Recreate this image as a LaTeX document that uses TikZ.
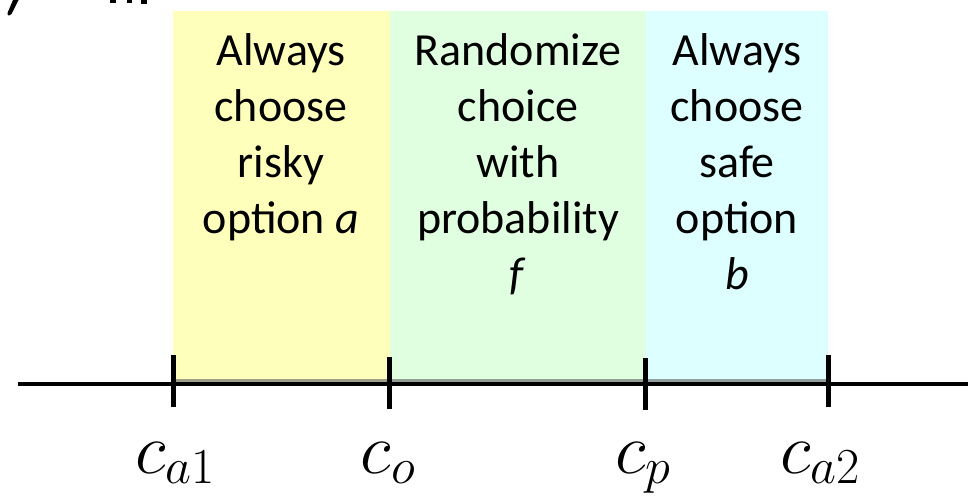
\RequirePackage{fix-cm}
\documentclass[tikz,border=0pt]{standalone}
\usepackage{fontspec}
\newfontfamily\boxfont{Carlito}
\definecolor{zoneyellow}{RGB}{255,255,188}
\definecolor{zonegreen}{RGB}{224,255,224}
\definecolor{zonecyan}{RGB}{222,255,255}
\begin{document}
\begin{tikzpicture}[x=1pt,y=-1pt,
  boxtxt/.style={inner sep=0pt,anchor=base,font=\boxfont\fontsize{46}{56}\selectfont},
  mathlbl/.style={inner sep=0pt,anchor=base,font=\fontsize{72}{80}\selectfont},
  tickmark/.style={line width=4.5pt},
  axisline/.style={line width=4pt}]
\useasboundingbox (0,0) rectangle (976,499);
% cropped title fragments
\fill[black] (13,0) -- (18.5,0) -- (11.5,14) to[out=240,in=0] (9,15.5) to[out=180,in=250] (7.5,13) -- cycle;
\fill[black] (110,0) rectangle (116,2.5);
\fill[black] (127,0) rectangle (132,2.5);
\fill[black] (141,0) rectangle (147,3.5);
% zones
\node[fill=zoneyellow,inner sep=0pt,minimum width=217pt,minimum height=372pt,anchor=north west] (zy) at (173,11) {};
\node[fill=zonegreen,inner sep=0pt,minimum width=256pt,minimum height=372pt,anchor=north west] (zg) at (390,11) {};
\node[fill=zonecyan,inner sep=0pt,minimum width=182pt,minimum height=372pt,anchor=north west] (zc) at (646,11) {};
\fill[zoneyellow!45!black!70] (173,379) rectangle (390,382);
\fill[zonegreen!45!black!70] (390,379) rectangle (646,382);
\fill[zonecyan!45!black!70] (646,379) rectangle (828,382);
% texts
\node[boxtxt] (y1) at (281,65) {Always};
\node[boxtxt] (y2) at (281,121) {choose};
\node[boxtxt] (y3) at (281,177) {risky};
\node[boxtxt] (y4) at (281,233) {option \textit{a}};
\node[boxtxt] (g1) at (518,65) {Randomize};
\node[boxtxt] (g2) at (518,121) {choice};
\node[boxtxt] (g3) at (518,177) {with};
\node[boxtxt] (g4) at (518,233) {probability};
\node[boxtxt] (g5) at (518,289) {\textit{f}};
\node[boxtxt] (c1) at (737,65) {Always};
\node[boxtxt] (c2) at (737,121) {choose};
\node[boxtxt] (c3) at (737,177) {safe};
\node[boxtxt] (c4) at (737,233) {option};
\node[boxtxt] (c5) at (737,289) {\textit{b}};
% axis
\coordinate (aL) at (18,383.5);
\coordinate (aR) at (968,383.5);
\draw[axisline] (aL) -- (aR);
\coordinate (t1a) at (173.5,355); \coordinate (t1b) at (173.5,407);
\coordinate (t2a) at (389.5,357); \coordinate (t2b) at (389.5,409);
\coordinate (t3a) at (645.5,358); \coordinate (t3b) at (645.5,410);
\coordinate (t4a) at (828.5,355); \coordinate (t4b) at (828.5,407);
\draw[tickmark] (t1a) -- (t1b);
\draw[tickmark] (t2a) -- (t2b);
\draw[tickmark] (t3a) -- (t3b);
\draw[tickmark] (t4a) -- (t4b);
% labels
\node[mathlbl] (l1) at (175,473) {$c_{a1}$};
\node[mathlbl] (l2) at (388,473) {$c_{o}$};
\node[mathlbl] (l3) at (643,473) {$c_{p}$};
\node[mathlbl] (l4) at (820,473) {$c_{a2}$};
\end{tikzpicture}
\end{document}
